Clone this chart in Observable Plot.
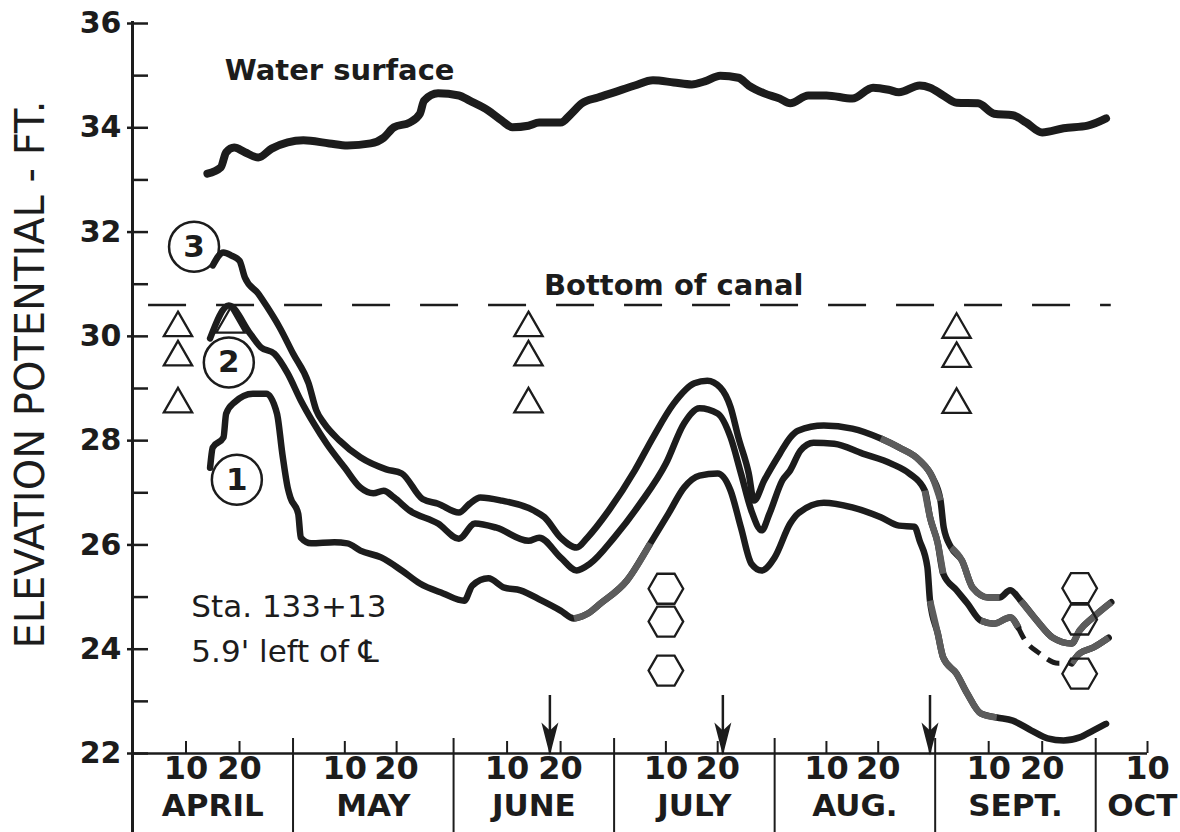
<!DOCTYPE html>
<html>
<head>
<meta charset="utf-8">
<script src="https://cdn.jsdelivr.net/npm/d3@7"></script>
<script src="https://cdn.jsdelivr.net/npm/@observablehq/plot@0.6"></script>
<style>
  html, body { margin: 0; padding: 0; background: #fff; }
  #chart svg { display: block; }
</style>
</head>
<body>
<div id="chart"></div>
<script>
// ---------- data (dates as "month/day", elevations in ft) ----------
const monthNames   = ["APRIL", "MAY", "JUNE", "JULY", "AUG.", "SEPT.", "OCT"];
const monthNumbers = [4, 5, 6, 7, 8, 9, 10];
const monthLengths = [30, 31, 30, 31, 31, 30, 31];
const dayTicks = ["4/10","4/20","5/10","5/20","6/10","6/20","7/10","7/20","8/10","8/20","9/10","9/20","10/10"];
const elevationTicks  = [22,23,24,25,26,27,28,29,30,31,32,33,34,35,36];
const elevationLabels = [22,24,26,28,30,32,34,36];
const canalBottom = 30.6;
const arrowDates = ["6/18", "7/21", "8/30"];

const waterSurface = [
  ["4/14",33.12],["4/16.5",33.24],["4/17.5",33.53],["4/19",33.62],["4/21",33.53],["4/23.5",33.43],
  ["4/26",33.60],["4/29",33.72],["5/2",33.76],["5/7",33.70],["5/10.5",33.66],["5/15",33.70],
  ["5/17.5",33.81],["5/19.5",34.01],["5/22.5",34.10],["5/24.5",34.27],["5/25.3",34.52],["5/28",34.66],
  ["6/1",34.62],["6/3",34.52],["6/6.5",34.33],["6/9",34.14],["6/11",34.01],["6/14",34.04],
  ["6/16",34.10],["6/20",34.10],["6/22",34.27],["6/24",34.47],["6/27",34.58],["6/30",34.68],
  ["7/4",34.81],["7/7.5",34.91],["7/11.5",34.87],["7/15",34.83],["7/17.5",34.89],["7/20.5",35.0],
  ["7/24",34.96],["7/26",34.81],["7/29",34.66],["8/1",34.56],["8/3",34.47],["8/6.5",34.62],
  ["8/10",34.62],["8/15",34.56],["8/19",34.77],["8/22",34.73],["8/24",34.68],["8/28",34.81],
  ["8/30",34.77],["9/1.5",34.62],["9/4",34.48],["9/8",34.47],["9/11",34.27],["9/14.5",34.24],
  ["9/17",34.10],["9/20",33.91],["9/24",33.99],["9/28.5",34.04],["10/2",34.18]
];

const piezometer3 = [
  ["4/15",31.36],["4/17",31.61],["4/18.5",31.55],["4/20",31.45],["4/21",31.13],["4/23.5",30.82],
  ["4/25",30.59],["4/27.5",30.17],["4/30",29.67],["5/3",29.10],["5/4.5",28.58],["5/6",28.33],
  ["5/9",28.00],["5/13",27.68],["5/18",27.45],["5/21",27.37],["5/25",26.88],["5/28",26.79],
  ["6/1",26.62],["6/3",26.79],["6/5",26.91],["6/9",26.85],["6/15",26.66],["6/17",26.53],
  ["6/20",26.14],["6/23",25.95],["6/25",26.14],["6/29",26.66],["7/4",27.43],["7/7.5",28.06],
  ["7/11.5",28.71],["7/15.5",29.10],["7/18",29.15],["7/20.5",29.02],["7/22.5",28.64],["7/24",28.06],
  ["7/26",27.37],["7/27",26.85],["7/29",27.24],["8/1",27.75],["8/3",28.06],["8/4.5",28.19],
  ["8/9.5",28.29],["8/15",28.23],["8/20.5",28.04],["8/24",27.87],["8/28",27.62],["8/30.5",27.29],
  ["9/1",26.85],["9/1.6",26.33],["9/3",25.95],["9/5",25.70],["9/7",25.18],["9/10",24.99],
  ["9/12",24.99],["9/14",25.13],["9/16",24.93],["9/19",24.55],["9/22",24.22],["9/25.5",24.11],
  ["9/27",24.36],["9/29.5",24.61],["10/3",24.90]
];

const piezometer2 = [
  ["4/14.5",29.96],["4/18",30.59],["4/22",30.05],["4/24",29.79],["4/26.5",29.67],["4/29",29.29],
  ["5/1.5",28.77],["5/4",28.33],["5/6.5",27.94],["5/10",27.48],["5/13",27.10],["5/15.5",26.99],
  ["5/17.5",27.04],["5/19.5",26.91],["5/22.5",26.66],["5/28",26.41],["6/1",26.12],["6/4",26.41],
  ["6/8",26.33],["6/14",26.08],["6/16",26.14],["6/20",25.76],["6/23",25.51],["6/25.5",25.64],
  ["6/30",26.14],["7/5",26.79],["7/10",27.56],["7/13.5",28.33],["7/16.5",28.62],["7/20",28.52],
  ["7/22.5",28.06],["7/24.5",27.37],["7/26.5",26.66],["7/28.5",26.28],["7/30",26.60],["8/1.5",27.24],
  ["8/3",27.43],["8/5",27.81],["8/7.5",27.96],["8/11.5",27.94],["8/17",27.75],["8/22.5",27.56],
  ["8/26",27.37],["8/29",27.04],["8/30",26.53],["8/31.5",26.03],["9/1.5",25.45],["9/4",25.13],
  ["9/6",24.88],["9/8.5",24.55],["9/11",24.49],["9/14",24.61],["9/15.5",24.42]
];
const piezometer2Gap = [
  ["9/15.5",24.42],["9/16.5",24.22],["9/19.5",23.92],["9/23",23.73],["9/25.5",23.73]
];
const piezometer2End = [
  ["9/25.5",23.73],["9/27",23.92],["9/29.5",24.03],["10/2.5",24.22]
];

const piezometer1 = [
  ["4/14.5",27.48],["4/15",27.87],["4/17",28.06],["4/17.5",28.52],["4/19",28.73],["4/22.5",28.90],
  ["4/25",28.90],["4/27",28.52],["4/28",27.75],["4/29",27.10],["4/29.5",26.91],["5/1",26.60],
  ["5/1.5",26.14],["5/3.5",26.03],["5/8",26.05],["5/10.5",26.03],["5/13",25.89],["5/17",25.76],
  ["5/21",25.51],["5/24.5",25.26],["5/29",25.07],["6/2",24.93],["6/3.5",25.22],["6/6.5",25.36],
  ["6/9.5",25.18],["6/12.5",25.13],["6/16.5",24.93],["6/20",24.74],["6/22.5",24.59],["6/25",24.68],
  ["6/27.5",24.88],["7/2.5",25.32],["7/7",26.03],["7/10.5",26.60],["7/13.5",27.10],["7/16.5",27.33],
  ["7/20",27.37],["7/22.5",27.04],["7/24.5",26.33],["7/26.5",25.64],["7/28.5",25.51],["7/31",25.76],
  ["8/3",26.41],["8/4.5",26.60],["8/9.5",26.81],["8/15",26.72],["8/20.5",26.53],["8/24",26.37],
  ["8/27",26.35],["8/28",26.08],["8/29.5",25.57],["8/30",24.93],["8/31.5",24.30],["9/1.5",23.84],
  ["9/4",23.53],["9/6",23.15],["9/8.5",22.77],["9/11.5",22.69],["9/14.5",22.63],["9/18",22.44],
  ["9/21",22.29],["9/24",22.25],["9/27",22.31],["9/29.5",22.44],["10/2",22.57]
];

// stretches where the printed trace is faded to grey: [series, from, to]
const fadedStretches = [
  ["1","6/22.5","7/7"],["1","8/30","9/11.5"],
  ["3","8/20.5","9/1"],["3","9/3","9/12"],["3","9/16","10/3"],
  ["2","8/29","9/1.5"],["2","9/8.5","9/15.5"],["2e","9/25.5","10/2.5"]
];

const triangleMarks = [
  ["4/8.5",30.16],["4/8.5",29.60],["4/8.5",28.70],["4/18.3",30.23],
  ["6/14",30.16],["6/14",29.60],["6/14",28.70],
  ["9/4",30.13],["9/4",29.57],["9/4",28.69]
];
const hexagonMarks = [
  ["7/10",25.16],["7/10",24.53],["7/10",23.59],
  ["9/27",25.17],["9/27",24.57],["9/27",23.53]
];
const circleLabels = [
  ["4/11.5",31.72,"3"],["4/18",29.50,"2"],["4/19.5",27.25,"1"]
];
const boldNotes = [
  ["5/9",35.10,"Water surface"],["7/11.5",30.98,"Bottom of canal"]
];
const stationNotes = [
  ["4/11",24.80,"Sta. 133+13"],["4/11",23.94,"5.9' left of \u2104"]
];
const yTitle = "ELEVATION POTENTIAL - FT.";

// ---------- helpers ----------
const INK = "#1c1c1c";
const FADED = "#5c5c5c";
const FONT = "DejaVu Sans";
const P = (s) => {
  const [m, d] = s.split("/").map(Number);
  return (m - 4) + d / monthLengths[m - 4];
};
const seriesById = {"1": piezometer1, "2": piezometer2, "2e": piezometer2End, "3": piezometer3};
const fadedPieces = fadedStretches.map(([id, a, b]) =>
  seriesById[id].filter((d) => P(d[0]) >= P(a) - 1e-9 && P(d[0]) <= P(b) + 1e-9));
const monthStarts = monthNumbers.slice(1).map((m) => P(m + "/0"));
const monthLabelX = monthNames.map((n, i) => i < 6 ? i + 0.5 : P("10/9"));
const arrowHead = {
  draw(ctx) {
    ctx.moveTo(0, 2);
    ctx.lineTo(-8.5, -31);
    ctx.lineTo(0, -23);
    ctx.lineTo(8.5, -31);
    ctx.closePath();
  }
};
const lineStyle = {
  x: (d) => P(d[0]), y: (d) => d[1], stroke: INK, strokeWidth: 6.5,
  curve: "monotone-x", strokeLinecap: "round", strokeLinejoin: "round"
};

const chart = Plot.plot({
  width: 1180,
  height: 832,
  marginLeft: 132,
  marginRight: 33,
  marginTop: 23,
  marginBottom: 79,
  x: {domain: [0, P("10/10")], axis: null},
  y: {domain: [22, 36], axis: null},
  style: {fontFamily: FONT, background: "#fff", color: INK, overflow: "visible"},
  marks: [
    // y axis line and ticks
    Plot.ruleX([0], {stroke: INK, strokeWidth: 3, insetTop: -2, insetBottom: -79}),
    Plot.ruleY(elevationTicks, {y: (d) => d, x1: 0, x2: 0, insetLeft: 0, insetRight: -16, stroke: INK, strokeWidth: 2.5}),
    Plot.ruleY(elevationLabels, {y: (d) => d, x1: 0, x2: 0, insetLeft: -5, stroke: INK, strokeWidth: 2.5}),
    Plot.text(elevationLabels, {y: (d) => d, text: (d) => String(d), frameAnchor: "left", dx: -11,
      textAnchor: "end", fontSize: 30, fontWeight: "bold", fill: INK}),
    Plot.text([yTitle], {frameAnchor: "left", dx: -101, dy: -14, rotate: -90, text: (d) => d,
      textAnchor: "middle", fontSize: 40, fill: INK}),
    // x axis line, month separators, day ticks
    Plot.ruleY([22], {stroke: INK, strokeWidth: 2.5}),
    Plot.ruleX(monthStarts, {x: (d) => d, insetTop: 715, insetBottom: -79, stroke: INK, strokeWidth: 2}),
    Plot.ruleX(dayTicks, {x: P, insetTop: 718, stroke: INK, strokeWidth: 2}),
    Plot.text(dayTicks, {x: P, text: (d) => d.split("/")[1], frameAnchor: "bottom", dy: 25,
      fontSize: 32, fontWeight: "bold", fill: INK, ariaLabel: "day labels"}),
    Plot.text(monthNames, {x: (d, i) => monthLabelX[i], text: (d) => d, frameAnchor: "bottom", dy: 62,
      fontSize: 31, fontWeight: "bold", fill: INK, ariaLabel: "month labels"}),
    // canal bottom
    Plot.ruleY([canalBottom], {y: (d) => d, x1: P("4/3"), x2: P("10/3"), stroke: INK, strokeWidth: 2.5,
      strokeDasharray: "38,30"}),
    // series
    Plot.line(waterSurface, {...lineStyle, strokeWidth: 8}),
    Plot.line(piezometer3, lineStyle),
    Plot.line(piezometer2, lineStyle),
    Plot.line(piezometer2Gap, {...lineStyle, strokeWidth: 5, strokeLinecap: "butt", strokeDasharray: "13,9"}),
    Plot.line(piezometer2End, lineStyle),
    Plot.line(piezometer1, lineStyle),
    ...fadedPieces.map((piece) => Plot.line(piece, {...lineStyle, stroke: FADED, strokeWidth: 6.6, strokeLinecap: "butt"})),
    // symbols
    Plot.dot(triangleMarks, {x: (d) => P(d[0]), y: (d) => d[1], symbol: "triangle", r: 10.5,
      stroke: INK, strokeWidth: 2.3, fill: "none"}),
    Plot.dot(hexagonMarks, {x: (d) => P(d[0]), y: (d) => d[1], symbol: "hexagon", r: 15, rotate: 30,
      stroke: INK, strokeWidth: 2.3, fill: "none"}),
    Plot.dot(circleLabels, {x: (d) => P(d[0]), y: (d) => d[1], r: 25, stroke: INK, strokeWidth: 2.5, fill: "none"}),
    Plot.text(circleLabels, {x: (d) => P(d[0]), y: (d) => d[1], text: (d) => d[2], fontSize: 31,
      fontWeight: "bold", fill: INK}),
    // arrows
    Plot.ruleX(arrowDates, {x: P, insetTop: 672, stroke: INK, strokeWidth: 2.5}),
    Plot.dot(arrowDates, {x: P, frameAnchor: "bottom", symbol: arrowHead, r: 1, fill: INK, stroke: "none"}),
    // annotations
    Plot.text(boldNotes, {x: (d) => P(d[0]), y: (d) => d[1], text: (d) => d[2], fontSize: 29,
      fontWeight: "bold", fill: INK}),
    Plot.text(stationNotes, {x: (d) => P(d[0]), y: (d) => d[1], text: (d) => d[2], fontSize: 31,
      textAnchor: "start", fill: INK})
  ]
});
d3.select(chart).selectAll("g[aria-label='day labels'] text").style("letter-spacing", "3px");
d3.select(chart).selectAll("g[aria-label='month labels'] text").style("letter-spacing", "2.5px");
document.getElementById("chart").append(chart);
</script>
</body>
</html>
